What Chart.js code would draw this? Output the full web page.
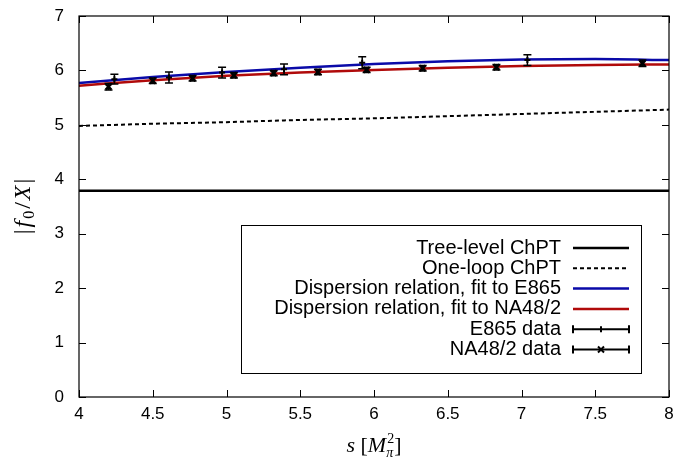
<!DOCTYPE html>
<html><head><meta charset="utf-8">
<script src="https://cdn.jsdelivr.net/npm/chart.js@4.4.1/dist/chart.umd.min.js"></script>
<style>html,body{margin:0;padding:0;background:#fff}#wrap{width:681px;height:459px}</style>
</head><body><div id="wrap"><canvas id="c" width="681" height="459"></canvas></div>
<script>
// ---- data ----
const xTicks = [4, 4.5, 5, 5.5, 6, 6.5, 7, 7.5, 8];
const yTicks = [0, 1, 2, 3, 4, 5, 6, 7];
const curveS = [4, 4.5, 5, 5.5, 6, 6.5, 7, 7.5, 8];
const treeLevel = [3.79, 3.79, 3.79, 3.79, 3.79, 3.79, 3.79, 3.79, 3.79];
const oneLoop = [4.98, 5.02, 5.05, 5.09, 5.12, 5.16, 5.20, 5.24, 5.28];
const dispE865 = [5.77, 5.88, 5.97, 6.05, 6.12, 6.17, 6.20, 6.21, 6.19];
const dispNA48 = [5.72, 5.82, 5.90, 5.96, 6.01, 6.05, 6.08, 6.10, 6.11];
const e865S = [4.24, 4.61, 4.97, 5.39, 5.92, 7.04];
const e865V = [5.84, 5.87, 5.96, 6.02, 6.14, 6.19];
const e865Err = [0.09, 0.10, 0.10, 0.10, 0.11, 0.10];
const na48S = [4.20, 4.50, 4.77, 5.05, 5.32, 5.62, 5.95, 6.33, 6.83, 7.82];
const na48V = [5.70, 5.81, 5.855, 5.91, 5.95, 5.97, 6.01, 6.04, 6.06, 6.13];
const na48Err = [0.06, 0.05, 0.05, 0.05, 0.05, 0.05, 0.05, 0.05, 0.05, 0.06];
const labels = ["Tree-level ChPT", "One-loop ChPT", "Dispersion relation, fit to E865",
  "Dispersion relation, fit to NA48/2", "E865 data", "NA48/2 data"];

const pts = (xs, ys) => xs.map((x, i) => ({x: x, y: ys[i]}));
const BLUE = '#0a0aa8', RED = '#b00a0a';

const datasets = [
  {label: labels[0], data: pts(curveS, treeLevel), showLine: true, borderColor: '#000', borderWidth: 2.5, pointRadius: 0, order: 5},
  {label: labels[1], data: pts(curveS, oneLoop), showLine: true, borderColor: '#000', borderWidth: 2, borderDash: [4, 3], pointRadius: 0, order: 4, cubicInterpolationMode: 'monotone'},
  {label: labels[2], data: pts(curveS, dispE865), showLine: true, borderColor: BLUE, borderWidth: 2.5, pointRadius: 0, order: 3, cubicInterpolationMode: 'monotone'},
  {label: labels[3], data: pts(curveS, dispNA48), showLine: true, borderColor: RED, borderWidth: 2.5, pointRadius: 0, order: 2, cubicInterpolationMode: 'monotone'},
  {label: labels[4], data: pts(e865S, e865V), errors: e865Err, showLine: false, pointStyle: 'cross', pointRadius: 3, borderColor: '#000', borderWidth: 2, backgroundColor: '#000', order: 1},
  {label: labels[5], data: pts(na48S, na48V), errors: na48Err, showLine: false, pointStyle: 'crossRot', pointRadius: 4, borderColor: '#000', borderWidth: 2.5, backgroundColor: '#000', order: 0}
];

const framePlugin = {
  id: 'frame',
  afterDatasetsDraw(chart) {
    const ctx = chart.ctx, a = chart.chartArea;
    const xs = chart.scales.x, ys = chart.scales.y;
    ctx.save();
    // error bars
    chart.data.datasets.forEach((ds) => {
      if (!ds.errors) return;
      ctx.strokeStyle = '#000'; ctx.lineWidth = 1.5;
      ds.data.forEach((p, i) => {
        const px = xs.getPixelForValue(p.x);
        const y1 = ys.getPixelForValue(p.y - ds.errors[i]);
        const y2 = ys.getPixelForValue(p.y + ds.errors[i]);
        ctx.beginPath();
        ctx.moveTo(px, y1); ctx.lineTo(px, y2);
        ctx.moveTo(px - 4, y1); ctx.lineTo(px + 4, y1);
        ctx.moveTo(px - 4, y2); ctx.lineTo(px + 4, y2);
        ctx.stroke();
      });
    });
    // frame
    ctx.strokeStyle = '#000'; ctx.lineWidth = 1.2;
    ctx.strokeRect(a.left, a.top, a.right - a.left, a.bottom - a.top);
    // inward ticks
    ctx.lineWidth = 1;
    xTicks.forEach(v => {
      const px = Math.round(xs.getPixelForValue(v)) + 0.5;
      ctx.beginPath();
      ctx.moveTo(px, a.bottom); ctx.lineTo(px, a.bottom - 7);
      ctx.moveTo(px, a.top); ctx.lineTo(px, a.top + 7);
      ctx.stroke();
    });
    yTicks.forEach(v => {
      const py = Math.round(ys.getPixelForValue(v)) + 0.5;
      ctx.beginPath();
      ctx.moveTo(a.left, py); ctx.lineTo(a.left + 7, py);
      ctx.moveTo(a.right, py); ctx.lineTo(a.right - 7, py);
      ctx.stroke();
    });
    // legend
    const bx1 = a.left + 162, bx2 = a.right - 28, by1 = a.top + 209, by2 = a.bottom - 24;
    ctx.fillStyle = '#fff';
    ctx.fillRect(bx1, by1, bx2 - bx1, by2 - by1);
    ctx.strokeStyle = '#000'; ctx.lineWidth = 1;
    ctx.strokeRect(bx1 + 0.5, by1 + 0.5, bx2 - bx1, by2 - by1);
    ctx.font = '20px "Liberation Sans", Arial, sans-serif';
    ctx.textAlign = 'right'; ctx.textBaseline = 'middle';
    const textX = bx2 - 80, l1 = bx2 - 68, l2 = bx2 - 12;
    chart.data.datasets.forEach((ds, i) => {
      const ry = by1 + 23 + i * 20.3;
      ctx.fillStyle = '#000';
      ctx.fillText(ds.label, textX, ry);
      ctx.save();
      ctx.strokeStyle = ds.borderColor;
      ctx.lineWidth = ds.errors ? 2 : ds.borderWidth;
      ctx.setLineDash(ds.borderDash || []);
      ctx.beginPath(); ctx.moveTo(l1, ry); ctx.lineTo(l2, ry); ctx.stroke();
      ctx.setLineDash([]);
      if (ds.errors) {
        ctx.beginPath();
        ctx.moveTo(l1, ry - 4); ctx.lineTo(l1, ry + 4);
        ctx.moveTo(l2, ry - 4); ctx.lineTo(l2, ry + 4);
        ctx.stroke();
        const mx = (l1 + l2) / 2;
        ctx.lineWidth = 2;
        ctx.beginPath();
        if (ds.pointStyle === 'crossRot') {
          ctx.moveTo(mx - 3, ry - 3); ctx.lineTo(mx + 3, ry + 3);
          ctx.moveTo(mx - 3, ry + 3); ctx.lineTo(mx + 3, ry - 3);
        } else {
          ctx.moveTo(mx, ry - 3); ctx.lineTo(mx, ry + 3);
        }
        ctx.stroke();
      }
      ctx.restore();
    });
    // axis titles
    ctx.fillStyle = '#000';
    ctx.textBaseline = 'alphabetic';
    const cx = (a.left + a.right) / 2;
    const SERIF = '"Liberation Serif", "DejaVu Serif", serif';
    const it = 'italic 22px ' + SERIF, up = '22px ' + SERIF;
    const sm = '14px ' + SERIF, smi = 'italic 14px ' + SERIF;
    // x title: s [M_pi^2]
    const parts = [[it, 's', 0], [up, ' [', 0], [it, 'M', 0], [sm, '2', -9], [smi, 'π', 5], [up, ']', 0]];
    const widths = parts.map(p => { ctx.font = p[0]; return ctx.measureText(p[1]).width; });
    const total = widths[0] + widths[1] + widths[2] + Math.max(widths[3], widths[4]) + 1 + widths[5];
    let x = cx - total / 2; const by = 452;
    ctx.textAlign = 'left';
    for (let i = 0; i < parts.length; i++) {
      ctx.font = parts[i][0];
      ctx.fillText(parts[i][1], x + (i === 3 ? 1 : 0), by + parts[i][2]);
      if (i === 3) continue;
      if (i === 4) { x += Math.max(widths[3], widths[4]) + 1; continue; }
      x += widths[i];
    }
    // y title: |f_0/X|
    ctx.save();
    ctx.translate(22, (a.top + a.bottom) / 2);
    ctx.rotate(-Math.PI / 2);
    const yt = 'italic 24px ' + SERIF, yu = '24px ' + SERIF, ys0 = '16px ' + SERIF;
    const yp = [[yu, '|', 0], [yt, 'f', 0], [ys0, '0', 4], [yu, '/', 0], [yt, 'X', 0], [yu, '|', 0]];
    const gap = 2;
    const yw = yp.map(p => { ctx.font = p[0]; return ctx.measureText(p[1]).width; });
    let yx = -(yw.reduce((s, v) => s + v, 0) + gap * (yp.length - 1)) / 2;
    yp.forEach((p, i) => { ctx.font = p[0]; ctx.fillText(p[1], yx, 8 + p[2]); yx += yw[i] + gap; });
    ctx.restore();
    ctx.restore();
  }
};

new Chart(document.getElementById('c'), {
  type: 'scatter',
  data: {datasets: datasets},
  options: {
    responsive: false, animation: false,
    layout: {autoPadding: false, padding: {top: 16, right: 12, left: 0, bottom: 0}},
    plugins: {legend: {display: false}, tooltip: {enabled: false}},
    scales: {
      x: {
        type: 'linear', min: 4, max: 8,
        afterBuildTicks: s => { s.ticks = xTicks.map(v => ({value: v})); },
        afterFit: s => { s.height = 62; s.paddingLeft = 0; s.paddingRight = 0; },
        grid: {display: false, drawTicks: false},
        border: {display: false},
        ticks: {color: '#000', padding: 7, font: {family: '"Liberation Sans", Arial, sans-serif', size: 17}, maxRotation: 0, callback: v => String(v)}
      },
      y: {
        type: 'linear', min: 0, max: 7,
        afterBuildTicks: s => { s.ticks = yTicks.map(v => ({value: v})); },
        afterFit: s => { s.width = 79; s.paddingTop = 0; s.paddingBottom = 0; },
        grid: {display: false, drawTicks: false},
        border: {display: false},
        ticks: {color: '#000', padding: 15, font: {family: '"Liberation Sans", Arial, sans-serif', size: 17}, callback: v => String(v)}
      }
    }
  },
  plugins: [framePlugin]
});
</script></body></html>
